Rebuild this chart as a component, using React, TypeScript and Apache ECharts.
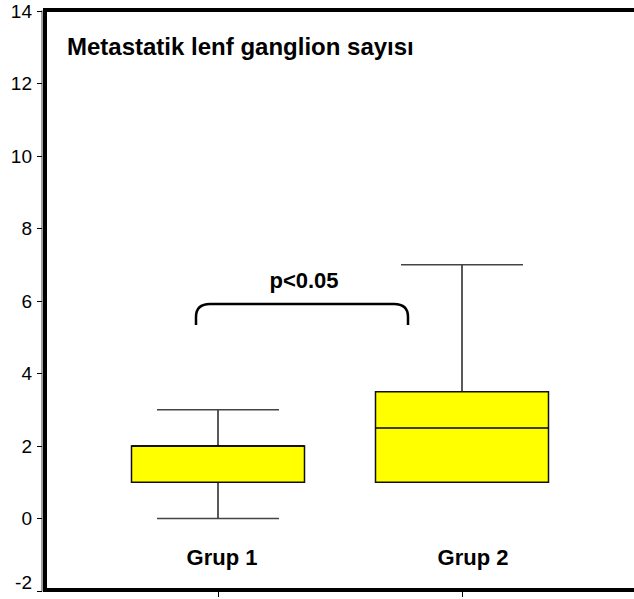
import React, { useEffect, useRef } from "react";
import * as echarts from "echarts";

const categories = ["Grup 1", "Grup 2"];
const groupX = [1, 2];
const mins = [0, 1];
const q1s = [1, 1];
const medians = [2, 2.5];
const q3s = [2, 3.5];
const maxs = [3, 7];
const yTicks = [-2, 0, 2, 4, 6, 8, 10, 12, 14];

const BRACKET_D = "M 0 21 L 0 13 Q 0 0 14 0 L 198 0 Q 212 0 212 13 L 212 21";

export default function App() {
  const ref = useRef<HTMLDivElement>(null);
  useEffect(() => {
    if (!ref.current) return;
    try {
      echarts.graphic.registerShape("bracket", echarts.graphic.extendPath(BRACKET_D, {}) as any);
    } catch (e) {}
    const chart = echarts.init(ref.current, null, { renderer: "svg" });
    const data = groupX.map((x, i) => [x, mins[i], q1s[i], medians[i], q3s[i], maxs[i]]);
    const font = "Arial, 'Liberation Sans', sans-serif";
    chart.setOption({
      animation: false,
      backgroundColor: "#fff",
      grid: { left: 42, top: 11, width: 592, bottom: 8, containLabel: false, outerBoundsMode: "none" },
      xAxis: {
        type: "value",
        min: 0.2787,
        max: 0.2787 + 592 / 244,
        axisLine: { show: false, onZero: false },
        splitLine: { show: false },
        axisTick: { show: true, customValues: groupX, length: 6, lineStyle: { color: "#000", width: 1 } },
        axisLabel: { show: false },
      },
      yAxis: {
        type: "value",
        min: -2,
        max: 14,
        interval: 2,
        splitLine: { show: false },
        axisLine: { show: true, onZero: false, lineStyle: { color: "#808080", width: 1.5 } },
        axisTick: { show: true, length: 5, lineStyle: { color: "#000", width: 1 } },
        axisLabel: {
          color: "#000",
          fontSize: 19,
          fontFamily: font,
          margin: 10,
          formatter: (v: number) => {
            if (!yTicks.includes(v)) return "";
            return v === yTicks[0] ? `{low|${v}}` : String(v);
          },
          rich: {
            low: { fontSize: 19, fontFamily: font, color: "#000", padding: [0, 0, 18, 0] },
          },
        },
      },
      series: [
        {
          type: "custom",
          data,
          clip: false,
          renderItem: (params: any, api: any) => {
            const x = api.value(0);
            const mn = api.value(1), q1 = api.value(2), md = api.value(3), q3 = api.value(4), mx = api.value(5);
            const cx = api.coord([x, 0])[0];
            const y = (v: number) => api.coord([x, v])[1];
            const bw = 173, cw = 122;
            const ws = { stroke: "#222", lineWidth: 1.5 };
            return {
              type: "group",
              children: [
                { type: "line", shape: { x1: cx, y1: y(mx), x2: cx, y2: y(q3) }, style: ws },
                { type: "line", shape: { x1: cx, y1: y(mn), x2: cx, y2: y(q1) }, style: ws },
                { type: "line", shape: { x1: cx - cw / 2, y1: y(mx), x2: cx + cw / 2, y2: y(mx) }, style: { stroke: "#444", lineWidth: 1.5 } },
                { type: "line", shape: { x1: cx - cw / 2, y1: y(mn), x2: cx + cw / 2, y2: y(mn) }, style: { stroke: "#444", lineWidth: 1.5 } },
                {
                  type: "rect",
                  shape: { x: cx - bw / 2, y: y(q3), width: bw, height: y(q1) - y(q3) },
                  style: { fill: "#FFFF00", stroke: "#111", lineWidth: 1.5 },
                },
                { type: "line", shape: { x1: cx - bw / 2, y1: y(md), x2: cx + bw / 2, y2: y(md) }, style: { stroke: "#000", lineWidth: 1.5 } },
              ],
            };
          },
        },
      ],
      graphic: [
        {
          type: "rect",
          z: 100,
          shape: { x: 45, y: 10, width: 650, height: 580 },
          style: { fill: "none", stroke: "#000", lineWidth: 4 },
        },
        {
          type: "text",
          z: 101,
          x: 67,
          y: 46,
          style: { text: "Metastatik lenf ganglion sayısı", font: `bold 24px ${font}`, fill: "#000", textVerticalAlign: "middle", textAlign: "left" },
        },
        {
          type: "text",
          z: 101,
          x: 304,
          y: 280,
          style: { text: "p<0.05", font: `bold 22px ${font}`, fill: "#000", textVerticalAlign: "middle", textAlign: "center" },
        },
        {
          type: "bracket",
          z: 101,
          x: 196,
          y: 304,
          style: { fill: "none", stroke: "#000", lineWidth: 2.5 },
        },
        {
          type: "text",
          z: 101,
          x: 222,
          y: 557,
          style: { text: categories[0], font: `bold 22px ${font}`, fill: "#000", textVerticalAlign: "middle", textAlign: "center" },
        },
        {
          type: "text",
          z: 101,
          x: 473,
          y: 557,
          style: { text: categories[1], font: `bold 22px ${font}`, fill: "#000", textVerticalAlign: "middle", textAlign: "center" },
        },
      ],
    });
    return () => chart.dispose();
  }, []);
  return <div ref={ref} style={{ position: "fixed", left: 0, top: 0, width: 634, height: 599 }} />;
}
